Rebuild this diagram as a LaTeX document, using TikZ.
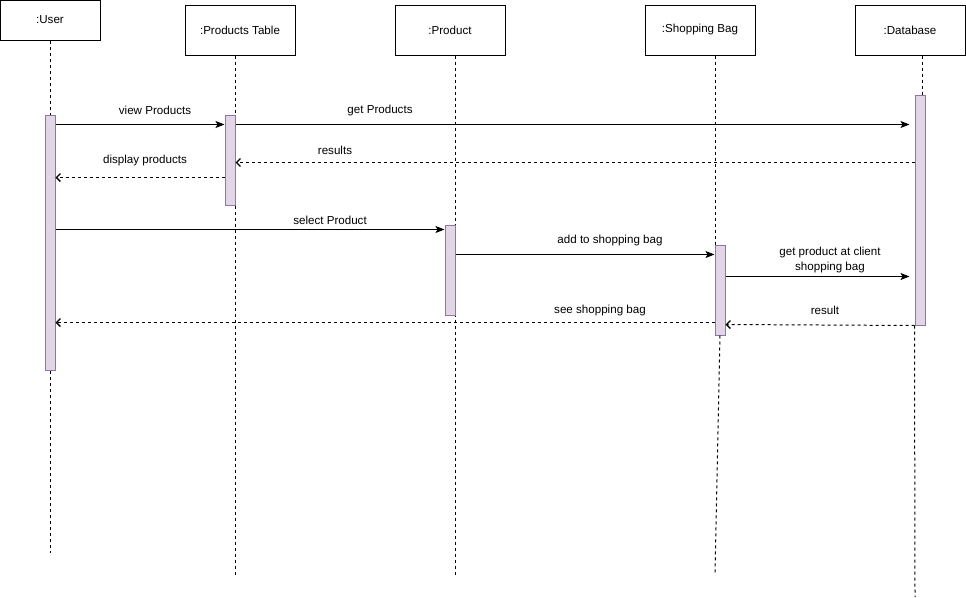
\documentclass[tikz,border=0pt]{standalone}
\usepackage{fontspec}
\setmainfont{Liberation Sans}
\usetikzlibrary{arrows.meta}
\definecolor{actfill}{HTML}{E1D5E7}
\definecolor{actline}{HTML}{9673A6}
\begin{document}
\begin{tikzpicture}[x=1pt,y=-1pt,
        font=\fontsize{11.6}{15}\selectfont,
        obj/.style={draw,line width=1pt,minimum width=110pt,minimum height=50pt,inner sep=0pt},
        act/.style={draw=actline,fill=actfill,line width=1pt,minimum width=10pt,inner sep=0pt},
        life/.style={dash pattern=on 3pt off 3pt,line width=1pt},
        call/.style={line width=1pt,-{Stealth[length=9pt,width=7pt,inset=2pt]}},
        reply/.style={line width=1pt,dash pattern=on 3pt off 3pt,-{Straight Barb[length=4pt,width=8pt,line width=1.3pt]}}]
    \useasboundingbox (0,0) rectangle (966,597);

    % objects
    \node[obj,minimum width=100pt,minimum height=40pt] (user) at (50,20) {:User};
    \node[obj] (table) at (240,30) {:Products Table};
    \node[obj] (product) at (450,30) {:Product};
    \node[obj] (bag) at (700,30) {:Shopping Bag};
    \node[obj] (db) at (910,30) {:Database};

    \coordinate (userEnd) at (50,553);
    \coordinate (tableEnd) at (235,575);
    \coordinate (productEnd) at (455,575);
    \coordinate (bagEnd) at (715,575);
    \coordinate (dbEnd) at (915,597);

    % lifelines
    \draw[life] (user.south) -- (userEnd);
    \draw[life] ([xshift=-5pt]table.south) -- (tableEnd);
    \draw[life] ([xshift=5pt]product.south) -- (productEnd);
    \draw[life] ([xshift=15pt]bag.south) -- (715,245);

    % activations
    \node[act,minimum height=255pt] (actUser) at (50,242.5) {};
    \node[act,minimum height=90pt] (actTable) at (230,160) {};
    \node[act,minimum height=90pt] (actProduct) at (450,270) {};
    \node[act,minimum height=90pt] (actBag) at (720,290) {};
    \node[act,minimum height=230pt] (actDb) at (920,210) {};

    \draw[life] (actBag.south) -- (bagEnd);
    \draw[life] ([xshift=12pt]db.south) -- ([xshift=2pt]actDb.north);
    \draw[life] (actDb.south west) -- (dbEnd);

    % messages
    \draw[call] ([yshift=-10pt]actUser.north east) -- ([yshift=-10pt]actTable.north west);
    \draw[call] ([yshift=-10pt]actTable.north east) -- ([xshift=-5pt,yshift=-30pt]actDb.north west);
    \draw[reply] ([yshift=-68pt]actDb.north west) -- ([yshift=-48pt]actTable.north east);
    \draw[reply] ([yshift=-63pt]actTable.north west) -- ([yshift=-63pt]actUser.north east);
    \draw[call] ([yshift=-115pt]actUser.north east) -- ([yshift=-5pt]actProduct.north west);
    \draw[call] ([yshift=-30pt]actProduct.north east) -- ([yshift=-10pt]actBag.north west);
    \draw[call] ([yshift=-32pt]actBag.north east) -- ([xshift=-5pt,yshift=-182pt]actDb.north west);
    \draw[reply] ([yshift=-78pt]actBag.north west) -- ([yshift=-208pt]actUser.north east);
    \draw[reply] (actDb.south west) -- ([yshift=-80pt]actBag.north east);

    % labels
    \node (lblView) at (155,110) {view Products};
    \node (lblGet) at (380,110) {get Products};
    \node (lblResults) at (335,150) {results};
    \node (lblDisplay) at (145,160) {display products};
    \node (lblSelect) at (330,220) {select Product};
    \node (lblAdd) at (610,240) {add to shopping bag};
    \node[align=center] (lblClient) at (830,260) {get product at client\\shopping bag};
    \node (lblSee) at (600,310) {see shopping bag};
    \node (lblResult) at (825,310) {result};

\end{tikzpicture}
\end{document}
